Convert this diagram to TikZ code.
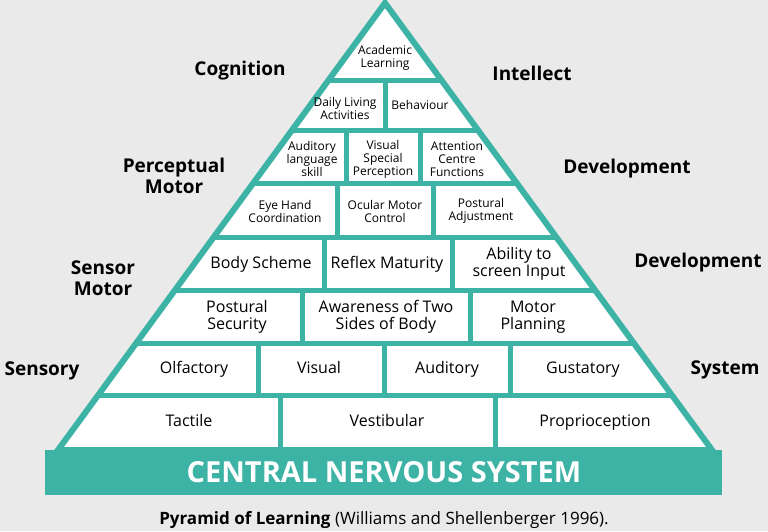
\documentclass[tikz,border=0pt]{standalone}
\usepackage{fontspec}
\setmainfont{Open Sans}
\definecolor{pyteal}{HTML}{3DB3A6}
\definecolor{pybg}{HTML}{EAEAEA}
\tikzset{
  brick/.style={font=\fontsize{16}{17}\selectfont, align=center},
  onebrick/.style={brick, text height=11.5pt, text depth=3.5pt},
  smallbrick/.style={font=\fontsize{12}{13}\selectfont, align=center},
  side/.style={font=\fontsize{19}{21}\selectfont\bfseries, align=center},
}
\begin{document}
\begin{tikzpicture}[x=1pt, y=-1pt]
\fill[pybg] (0,0) rectangle (768,531);
\useasboundingbox (0,0) rectangle (768,531);

\coordinate (apex) at (385,3);
\coordinate (bl) at (58,450);
\coordinate (br) at (712,450);

\fill[white] (apex)--(bl)--(br)--cycle;
\begin{scope}
\clip (apex)--(bl)--(br)--cycle;
\foreach \y in {80,130,183,237,290,343,395}
  \draw[pyteal, line width=5pt] (0,\y)--(768,\y);
\foreach \xa/\ya/\yb in {385/80/130, 346/130/183, 420/130/183, 337/183/237, 433/183/237,
    324/237/290, 452/237/290, 302/290/343, 470/290/343, 258/343/395, 384/343/395, 510/343/395,
    280/395/450, 495/395/450}
  \draw[pyteal, line width=5pt] (\xa,\ya)--(\xa,\yb);
\end{scope}
\draw[pyteal, line width=6pt, line join=miter] (apex)--(bl)--(br)--cycle;

\fill[pyteal] (45,450) rectangle (722,495);
\node[text=white, font=\fontsize{29}{29}\selectfont\bfseries] (cns) at (384,472) {CENTRAL NERVOUS SYSTEM};

\node[smallbrick] (academic) at (385,58) {Academic\\Learning};
\node[smallbrick] (daily) at (345,108) {Daily Living\\Activities};
\node[smallbrick] (behaviour) at (420,105) {Behaviour};
\node[smallbrick] (auditorylang) at (312,159) {Auditory\\language\\skill};
\node[smallbrick] (visualspecial) at (383,159) {Visual\\Special\\Perception};
\node[smallbrick] (attention) at (457,159) {Attention\\Centre\\Functions};
\node[smallbrick] (eyehand) at (285,211) {Eye Hand\\Coordination};
\node[smallbrick] (ocular) at (385,211) {Ocular Motor\\Control};
\node[smallbrick] (postadj) at (481,211) {Postural\\Adjustment};
\node[onebrick] (bodyscheme) at (261,264) {Body Scheme};
\node[onebrick] (reflex) at (387,264) {Reflex Maturity};
\node[brick] (ability) at (519,264) {Ability to\\screen Input};
\node[brick] (postsec) at (237,317) {Postural\\Security};
\node[brick] (awareness) at (386,317) {Awareness of Two\\Sides of Body};
\node[brick] (motorplan) at (533,317) {Motor\\Planning};
\node[onebrick] (olfactory) at (194,369) {Olfactory};
\node[onebrick] (visual) at (319,369) {Visual};
\node[onebrick] (auditory) at (447,369) {Auditory};
\node[onebrick] (gustatory) at (583,369) {Gustatory};
\node[onebrick] (tactile) at (189,422) {Tactile};
\node[onebrick] (vestibular) at (387,422) {Vestibular};
\node[onebrick] (proprio) at (595,422) {Proprioception};

\node[side] (cognition) at (240,71) {Cognition};
\node[side] (intellect) at (532,73) {Intellect};
\node[side] (perceptual) at (174,176) {Perceptual\\Motor};
\node[side] (devA) at (627,169) {Development};
\node[side] (sensor) at (103,278) {Sensor\\Motor};
\node[side] (devB) at (698,263) {Development};
\node[side] (sensory) at (42,371) {Sensory};
\node[side] (system) at (725,370) {System};

\node[font=\fontsize{17}{17}\selectfont] (caption) at (384,520) {\textbf{Pyramid of Learning} (Williams and Shellenberger 1996).};
\end{tikzpicture}
\end{document}
